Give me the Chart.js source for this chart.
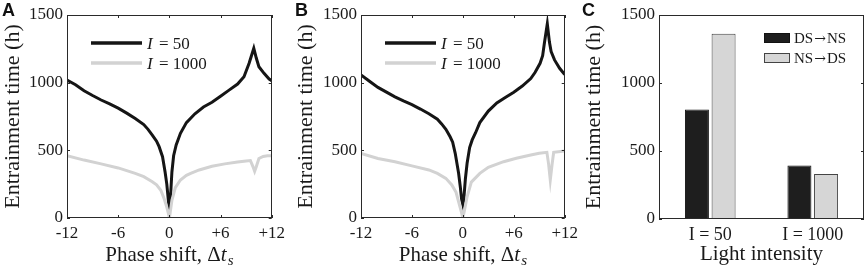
<!DOCTYPE html>
<html>
<head>
<meta charset="utf-8">
<script src="https://cdn.jsdelivr.net/npm/chart.js@4.4.0/dist/chart.umd.min.js"></script>
<style>
    html, body { margin: 0; padding: 0; background: #fff; }
    #wrap { position: relative; width: 865px; height: 268px; overflow: hidden; }
    #wrap canvas { position: absolute; top: 0; }
</style>
</head>
<body>
<div id="wrap">
    <canvas id="chartA" width="290" height="268" style="left:0px"></canvas>
    <canvas id="chartB" width="290" height="268" style="left:293px"></canvas>
    <canvas id="chartC" width="288" height="268" style="left:577px"></canvas>
</div>
<script>
// ---- data ----
const xTickValues = [-12, -6, 0, 6, 12];
const xTickLabels = ['-12', '-6', '0', '+6', '+12'];
const yTickValues = [0, 500, 1000, 1500];
const seriesLabels = ['I = 50', 'I = 1000'];

// panel A
const xA50 = [-12, -11, -10, -9, -8, -7, -6, -5, -4, -3, -2.5, -2, -1.5, -1.2, -0.8, -0.5, -0.3, -0.1, 0,
    0.1, 0.3, 0.5, 0.8, 1.3, 2, 3, 4, 5, 6, 7, 8, 8.75, 9.35, 9.9, 10.2, 10.5, 11.1, 11.7, 12];
const yA50 = [1020, 985, 940, 905, 872, 843, 812, 775, 735, 690, 655, 613, 568, 527, 453, 340, 250, 120, 80,
    120, 340, 460, 540, 626, 705, 770, 820, 855, 900, 945, 990, 1044, 1143, 1254, 1180, 1118, 1069, 1027, 1015];
const xA1000 = [-12, -10, -8, -6, -4, -3, -2, -1.5, -1, -0.6, -0.3, -0.1, 0, 0.1, 0.3, 0.7, 1.3, 2, 2.5,
    3.5, 5, 6.5, 8, 9, 9.5, 9.8, 10, 10.2, 10.5, 11, 11.5, 12];
const yA1000 = [461, 428, 400, 370, 330, 305, 268, 245, 205, 140, 80, 30, 0, 40, 130, 225, 281, 315, 330,
    355, 382, 400, 414, 422, 425, 380, 345, 380, 440, 455, 460, 460];

// panel B
const xB50 = [-12, -11, -10, -9, -8, -7, -6, -5, -4, -3, -2.5, -2, -1.5, -1.2, -0.9, -0.5, -0.3, -0.15, 0,
    0.1, 0.3, 0.5, 0.8, 1.1, 1.5, 2, 3, 4, 5, 6, 7, 8, 8.5, 9.1, 9.4, 9.6, 9.95, 10.2, 10.4, 10.8, 11.4, 12];
const yB50 = [1057, 1010, 965, 930, 895, 865, 838, 805, 770, 730, 695, 655, 600, 560, 478, 330, 230, 140, 100,
    130, 290, 404, 520, 577, 630, 705, 790, 850, 890, 930, 975, 1030, 1075, 1143, 1200, 1290, 1435, 1300, 1230, 1168, 1106, 1060];
const xB1000 = [-12, -10, -8, -6, -4, -3, -2, -1.3, -0.8, -0.5, -0.2, 0, 0.2, 0.5, 1, 2, 3, 4.8, 6.3,
    8, 9, 9.9, 10.1, 10.3, 10.5, 10.7, 11.5, 12];
const yB1000 = [478, 440, 415, 385, 355, 330, 293, 244, 190, 120, 50, 0, 60, 157, 265, 330, 375, 416, 441,
    466, 478, 485, 400, 281, 390, 485, 492, 495];

// panel C
const barCategories = ['I = 50', 'I = 1000'];
const barLabels = ['DS\u2192NS', 'NS\u2192DS'];
const barDSNS = [805, 394];
const barNSDS = [1363, 330];

// ---- styling ----
const SERIF = "'Liberation Serif', 'Times New Roman', serif";
const ARROW_FONT = "'DejaVu Serif', serif";
const TEXT = '#1a1a1a';
const BLACK_LINE = '#151515';
const GRAY_LINE = '#d2d2d2';

function toPoints(xs, ys) {
    return xs.map((x, i) => ({ x: x, y: ys[i] }));
}

/**
 * Box around the plot area plus small inward tick marks (MATLAB style).
 */
const frameBox = {
    id: 'frameBox',
    afterDraw(chart, args, opts) {
        const { ctx, chartArea: a, scales } = chart;
        ctx.save();
        ctx.strokeStyle = '#2a2a2a';
        ctx.lineWidth = 1;
        ctx.strokeRect(Math.round(a.left) + 0.5, Math.round(a.top) + 0.5,
            Math.round(a.right - a.left) - 1, Math.round(a.bottom - a.top) - 1);
        const len = 3;
        ctx.beginPath();
        if (opts.xTicks) {
            scales.x.ticks.forEach((t, i) => {
                const px = Math.round(scales.x.getPixelForTick(i)) + 0.5;
                ctx.moveTo(px, a.bottom); ctx.lineTo(px, a.bottom - len);
                ctx.moveTo(px, a.top); ctx.lineTo(px, a.top + len);
            });
        }
        scales.y.ticks.forEach(t => {
            const py = Math.round(scales.y.getPixelForValue(t.value)) + 0.5;
            ctx.moveTo(a.left, py); ctx.lineTo(a.left + len, py);
            ctx.moveTo(a.right, py); ctx.lineTo(a.right - len, py);
        });
        ctx.stroke();
        ctx.restore();
    }
};

/**
 * Legend drawn inside the chart area (top-left for lines, top-right for bars).
 * Arrows are drawn in DejaVu Serif since Liberation Serif's arrow is tiny.
 */
const insideLegend = {
    id: 'insideLegend',
    afterDraw(chart, args, opts) {
        if (!opts.items) return;
        const { ctx, chartArea: a } = chart;
        ctx.save();
        opts.items.forEach((item, i) => {
            const y = a.top + opts.y + i * opts.rowGap;
            const x0 = a.left + opts.x;
            if (opts.kind === 'line') {
                ctx.strokeStyle = item.color;
                ctx.lineWidth = 3.5;
                ctx.beginPath();
                ctx.moveTo(x0, y); ctx.lineTo(x0 + opts.symbolWidth, y);
                ctx.stroke();
            } else {
                ctx.fillStyle = item.color;
                ctx.strokeStyle = item.border;
                ctx.lineWidth = 1;
                ctx.fillRect(x0, y - 5, opts.symbolWidth, 10);
                ctx.strokeRect(x0 + 0.5, y - 4.5, opts.symbolWidth - 1, 9);
            }
            let tx = x0 + opts.symbolWidth + opts.gap;
            ctx.fillStyle = TEXT;
            ctx.textBaseline = 'alphabetic';
            ctx.textAlign = 'left';
            const base = y + opts.fontSize * 0.33;
            let label = item.label;
            if (opts.italicFirst) {
                ctx.font = `italic ${opts.fontSize}px ${SERIF}`;
                ctx.fillText(label.charAt(0), tx, base);
                tx += ctx.measureText(label.charAt(0)).width + 2;
                label = label.slice(1);
            }
            const parts = label.split('\u2192');
            parts.forEach((p, k) => {
                ctx.font = `${opts.fontSize}px ${SERIF}`;
                ctx.fillText(p, tx, base);
                tx += ctx.measureText(p).width;
                if (k < parts.length - 1) {
                    ctx.font = `${opts.fontSize - 1}px ${ARROW_FONT}`;
                    ctx.fillText('\u2192', tx + 1, base);
                    tx += ctx.measureText('\u2192').width + 2;
                }
            });
        });
        ctx.restore();
    }
};

/**
 * Panel letter in the corner plus optional "Phase shift, Δt_s" axis title.
 */
const panelText = {
    id: 'panelText',
    afterDraw(chart, args, opts) {
        const { ctx, chartArea: a } = chart;
        ctx.save();
        ctx.fillStyle = '#111';
        ctx.textBaseline = 'alphabetic';
        ctx.textAlign = 'left';
        ctx.font = "bold 18px 'Liberation Sans', Arial, sans-serif";
        ctx.fillText(opts.letter, opts.letterX, 16);

        if (opts.phaseTitle) {
            const partA = 'Phase shift, \u0394';
            const base = 261;
            ctx.fillStyle = TEXT;
            ctx.font = `21px ${SERIF}`;
            const wA = ctx.measureText(partA).width;
            ctx.font = `italic 21px ${SERIF}`;
            const wT = ctx.measureText('t').width;
            ctx.font = `italic 15px ${SERIF}`;
            const wS = ctx.measureText('s').width;
            let x = (a.left + a.right) / 2 - (wA + wT + wS + 1) / 2;
            ctx.font = `21px ${SERIF}`;
            ctx.fillText(partA, x, base);
            x += wA;
            ctx.font = `italic 21px ${SERIF}`;
            ctx.fillText('t', x, base);
            x += wT + 1;
            ctx.font = `italic 15px ${SERIF}`;
            ctx.fillText('s', x, base + 4);
        }
        ctx.restore();
    }
};

function yAxis(width, titlePad) {
    return {
        min: 0,
        max: 1500,
        afterBuildTicks: s => { s.ticks = yTickValues.map(v => ({ value: v })); },
        ticks: {
            color: TEXT,
            font: { family: SERIF, size: 17 },
            padding: 4,
            callback: v => String(v)
        },
        grid: { display: false, drawTicks: false },
        border: { display: false },
        title: {
            display: true,
            text: 'Entrainment time (h)',
            color: TEXT,
            font: { family: SERIF, size: 22 },
            padding: { top: titlePad, bottom: 0 }
        },
        afterFit: s => { s.width = width; }
    };
}

function renderLinePanel(canvasId, letter, x50, y50, x1000, y1000, yWidth) {
    const ctx = document.getElementById(canvasId).getContext('2d');
    return new Chart(ctx, {
        type: 'line',
        data: {
            datasets: [
                {
                    label: seriesLabels[0],
                    data: toPoints(x50, y50),
                    borderColor: BLACK_LINE,
                    borderWidth: 3,
                    pointRadius: 0,
                    tension: 0,
                    order: 1
                },
                {
                    label: seriesLabels[1],
                    data: toPoints(x1000, y1000),
                    borderColor: GRAY_LINE,
                    borderWidth: 3,
                    pointRadius: 0,
                    tension: 0,
                    order: 0
                }
            ]
        },
        options: {
            responsive: false,
            animation: false,
            devicePixelRatio: 1,
            layout: { padding: { top: 15, right: 18, left: 0, bottom: 0 } },
            scales: {
                x: {
                    type: 'linear',
                    min: -12,
                    max: 12,
                    afterBuildTicks: s => { s.ticks = xTickValues.map(v => ({ value: v })); },
                    ticks: {
                        color: TEXT,
                        font: { family: SERIF, size: 17 },
                        padding: 5,
                        maxRotation: 0,
                        autoSkip: false,
                        callback: (v, i) => xTickLabels[i]
                    },
                    grid: { display: false, drawTicks: false },
                    border: { display: false },
                    afterFit: s => { s.height = 50; }
                },
                y: yAxis(yWidth, 0)
            },
            plugins: {
                legend: { display: false },
                tooltip: { enabled: false },
                frameBox: { xTicks: true },
                insideLegend: {
                    kind: 'line',
                    items: [
                        { label: seriesLabels[0], color: BLACK_LINE },
                        { label: seriesLabels[1], color: GRAY_LINE }
                    ],
                    x: 24, y: 28, rowGap: 20,
                    symbolWidth: 51, gap: 5,
                    fontSize: 17, italicFirst: true
                },
                panelText: { letter: letter, letterX: 2, phaseTitle: true }
            }
        },
        plugins: [frameBox, insideLegend, panelText]
    });
}

renderLinePanel('chartA', 'A', xA50, yA50, xA1000, yA1000, 67);
renderLinePanel('chartB', 'B', xB50, yB50, xB1000, yB1000, 68);

// ---- panel C: bar chart ----
new Chart(document.getElementById('chartC').getContext('2d'), {
    type: 'bar',
    data: {
        labels: barCategories,
        datasets: [
            {
                label: barLabels[0],
                data: barDSNS,
                backgroundColor: '#1e1e1e',
                borderColor: '#111',
                borderWidth: 1,
                barPercentage: 0.9,
                categoryPercentage: 0.52
            },
            {
                label: barLabels[1],
                data: barNSDS,
                backgroundColor: '#d6d6d6',
                borderColor: '#444',
                borderWidth: 1,
                barPercentage: 0.9,
                categoryPercentage: 0.52
            }
        ]
    },
    options: {
        responsive: false,
        animation: false,
        devicePixelRatio: 1,
        layout: { padding: { top: 15, right: 1, left: 0, bottom: 0 } },
        scales: {
            x: {
                ticks: { color: TEXT, font: { family: SERIF, size: 18 }, padding: 5, maxRotation: 0 },
                grid: { display: false, drawTicks: false },
                border: { display: false },
                title: {
                    display: true,
                    text: 'Light intensity',
                    color: TEXT,
                    font: { family: SERIF, size: 21 },
                    padding: { top: 0, bottom: 1 }
                },
                afterFit: s => { s.height = 49; }
            },
            y: yAxis(82, 4)
        },
        plugins: {
            legend: { display: false },
            tooltip: { enabled: false },
            frameBox: { xTicks: false },
            insideLegend: {
                kind: 'box',
                items: [
                    { label: barLabels[0], color: '#1e1e1e', border: '#111' },
                    { label: barLabels[1], color: '#d6d6d6', border: '#444' }
                ],
                x: 105, y: 23, rowGap: 20,
                symbolWidth: 26, gap: 4,
                fontSize: 15, italicFirst: false
            },
            panelText: { letter: 'C', letterX: 5, phaseTitle: false }
        }
    },
    plugins: [frameBox, insideLegend, panelText]
});
</script>
</body>
</html>
